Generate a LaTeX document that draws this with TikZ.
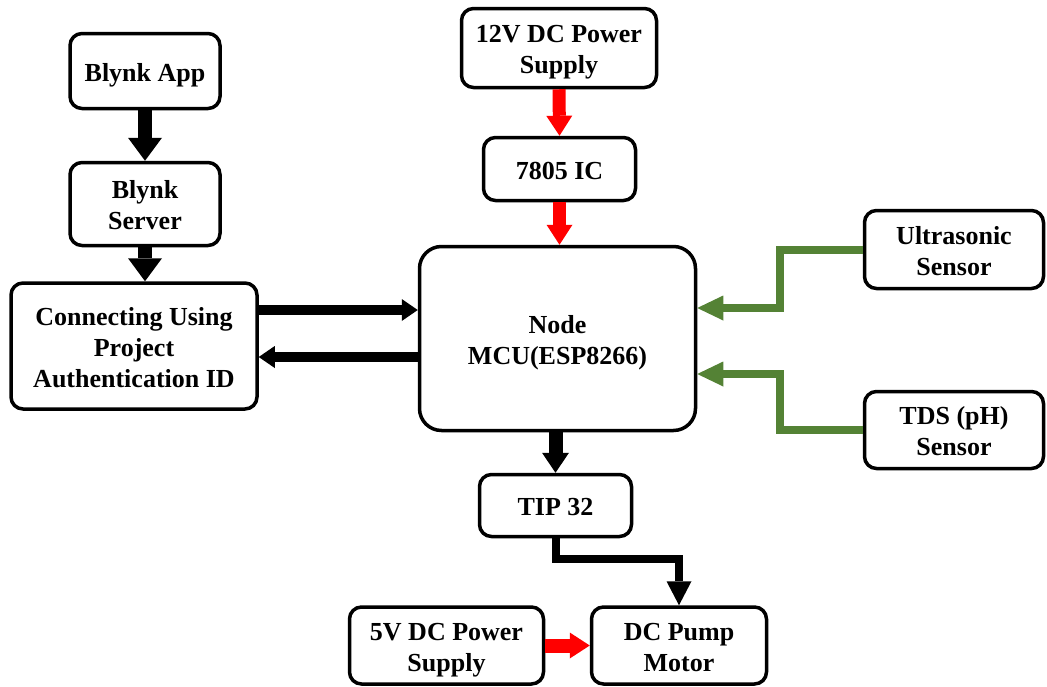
\documentclass[tikz,border=0pt]{standalone}
\usepackage{fontspec}
\setmainfont{Liberation Serif}
\usetikzlibrary{arrows.meta,calc}
\definecolor{pgreen}{HTML}{548235}
\definecolor{pred}{HTML}{FF0000}
\newcommand\boxtxt[1]{\setbox0=\hbox{\begin{tabular}{@{}c@{}}#1\end{tabular}}\raisebox{-4pt}[\ht0][\dp0]{\copy0}}
\begin{document}
\begin{tikzpicture}[x=1pt,y=-1pt,
  box/.style={draw, line width=3.5pt, rounded corners=12pt, align=center,
    font=\fontsize{26}{31}\selectfont\bfseries, inner sep=0pt},
  bigblk/.style={line width=14pt, -{Triangle[width=34pt,length=23pt,line width=0pt]}},
  midblk/.style={line width=14pt, -{Triangle[width=27pt,length=20pt,line width=0pt]}},
  hblk/.style={line width=10pt, -{Triangle[width=22pt,length=16pt,line width=0pt]}},
  thinblk/.style={line width=8pt, -{Triangle[width=25pt,length=24pt,line width=0pt]}},
  redarr/.style={pred, line width=13pt, -{Triangle[width=26pt,length=20pt,line width=0pt]}},
  grnarr/.style={pgreen, line width=8pt, -{Triangle[width=25pt,length=26pt,line width=0pt]}}
]
\useasboundingbox (0,0) rectangle (1047,686);

\node[box, minimum width=150pt, minimum height=75pt] (app) at (145,71) {\boxtxt{Blynk App}};
\node[box, minimum width=150pt, minimum height=83pt] (server) at (145,204) {\boxtxt{Blynk\\Server}};
\node[box, minimum width=246pt, minimum height=126pt] (conn) at (134,346) {\boxtxt{Connecting Using\\Project\\Authentication ID}};
\node[box, minimum width=195pt, minimum height=79pt] (ps12) at (559,48) {\boxtxt{12V DC Power\\Supply}};
\node[box, minimum width=152pt, minimum height=63pt] (ic) at (559.5,169) {\boxtxt{7805 IC}};
\node[box, rounded corners=22pt, minimum width=276pt, minimum height=184pt] (mcu) at (557.5,338.5) {\boxtxt{Node\\MCU(ESP8266)}};
\node[box, minimum width=179pt, minimum height=78pt] (us) at (954,249.5) {\boxtxt{Ultrasonic\\Sensor}};
\node[box, minimum width=179pt, minimum height=77pt] (tds) at (954,430) {\boxtxt{TDS (pH)\\Sensor}};
\node[box, minimum width=152pt, minimum height=62pt] (tip) at (555.5,505.5) {\boxtxt{TIP 32}};
\node[box, minimum width=194pt, minimum height=77pt] (ps5) at (446.5,645.5) {\boxtxt{5V DC Power\\Supply}};
\node[box, minimum width=175pt, minimum height=77pt] (pump) at (679,645.5) {\boxtxt{DC Pump\\Motor}};

\coordinate (y1) at (0,310);
\coordinate (y2) at (0,357);
\coordinate (g1) at (780,308);
\coordinate (g2) at (780,374);
\coordinate (b1) at (679,559);

\draw[bigblk] (app.south) -- (server.north);
\draw[bigblk] (server.south) -- (server.south |- conn.north);
\draw[redarr] (ps12.south) -- (ic.north);
\draw[redarr] (ic.south) -- (ic.south |- mcu.north);
\draw[hblk] (conn.east |- y1) -- (mcu.west |- y1);
\draw[hblk] (mcu.west |- y2) -- (conn.east |- y2);
\draw[grnarr] (us.west) -| (g1) -- (mcu.east |- g1);
\draw[grnarr] (tds.west) -| (g2) -- (mcu.east |- g2);
\draw[midblk] (mcu.south -| tip.north) -- (tip.north);
\draw[thinblk] (tip.south) |- (b1) -- (pump.north);
\draw[redarr, line width=14pt] (ps5.east) -- (pump.west);
\end{tikzpicture}
\end{document}
